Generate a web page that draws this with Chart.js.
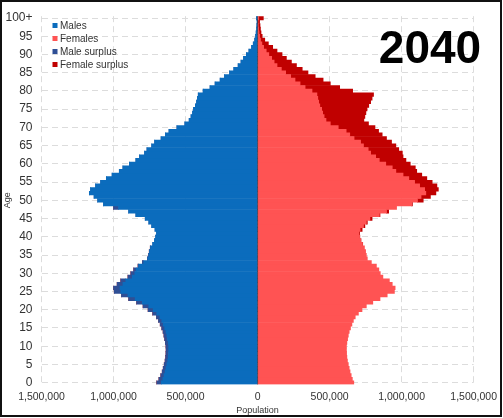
<!DOCTYPE html>
<html>
<head>
<meta charset="utf-8">
<script src="https://cdn.jsdelivr.net/npm/chart.js@4.4.1/dist/chart.umd.min.js"></script>
<style>
  html, body { margin: 0; padding: 0; background: #fff; }
  #frame { position: absolute; left: 0; top: 0; width: 502px; height: 417px; box-sizing: border-box; border: 2px solid #111; }
  #wrap { position: absolute; left: 0; top: 0; width: 503px; height: 418px; }
</style>
</head>
<body>
<div id="wrap"><canvas id="c" width="503" height="418"></canvas></div>
<div id="frame"></div>
<script>
const ages = [];
for (let a = 0; a < 100; a++) ages.push(String(a));
ages.push('100+');

const maleTotals = [
  700000, 685000, 672000, 662000, 655000, 648000, 642000, 638000, 636000, 635000,
  636000, 640000, 645000, 650000, 656000, 665000, 676000, 688000, 702000, 728000,
  760000, 795000, 840000, 895000, 945000, 995000, 1000000, 975000, 950000, 900000,
  880000, 860000, 830000, 800000, 765000, 757000, 752000, 745000, 728000, 716000,
  708000, 702000, 712000, 735000, 755000, 780000, 845000, 895000, 1000000, 1070000,
  1110000, 1135000, 1168000, 1160000, 1125000, 1090000, 1050000, 1010000, 960000, 935000,
  890000, 845000, 820000, 785000, 768000, 735000, 715000, 670000, 640000, 615000,
  560000, 505000, 475000, 462000, 452000, 445000, 432000, 424000, 418000, 412000,
  378000, 330000, 295000, 260000, 230000, 195000, 165000, 135000, 115000, 98000,
  78000, 60000, 42000, 30000, 20000, 14000, 10000, 7000, 5000, 3000,
  8000
];

const femaleTotals = [
  668000, 658000, 650000, 642000, 636000, 630000, 624000, 620000, 618000, 617000,
  617000, 620000, 625000, 630000, 636000, 645000, 655000, 665000, 678000, 700000,
  725000, 755000, 800000, 850000, 900000, 950000, 955000, 935000, 915000, 870000,
  852000, 842000, 825000, 790000, 762000, 755000, 750000, 742000, 730000, 718000,
  710000, 708000, 726000, 745000, 762000, 795000, 850000, 910000, 965000, 1075000,
  1150000, 1200000, 1238000, 1255000, 1245000, 1212000, 1175000, 1140000, 1105000, 1095000,
  1060000, 1030000, 1010000, 1005000, 980000, 960000, 930000, 895000, 865000, 840000,
  815000, 770000, 738000, 745000, 752000, 760000, 772000, 785000, 795000, 805000,
  660000, 570000, 505000, 455000, 400000, 350000, 310000, 270000, 235000, 200000,
  170000, 135000, 105000, 75000, 50000, 32000, 24000, 20000, 17000, 14000,
  40000
];

const xTicks = [-1500000, -1000000, -500000, 0, 500000, 1000000, 1500000];
const yearLabel = '2040';

const common = maleTotals.map((m, i) => Math.min(m, femaleTotals[i]));
const maleSurplus = maleTotals.map((m, i) => Math.max(m - femaleTotals[i], 0));
const femaleSurplus = femaleTotals.map((f, i) => Math.max(f - maleTotals[i], 0));

const COL_M = '#0b6cbd', COL_F = '#ff5353', COL_MS = '#2f4f95', COL_FS = '#c00000';
const FONT = "'Liberation Sans', Arial, sans-serif";

const legendPlugin = {
  id: 'insideLegend',
  afterDraw(chart) {
    const ctx = chart.ctx;
    ctx.save();
    ctx.font = '10px ' + FONT;
    ctx.textBaseline = 'middle';
    const ys = [25.5, 38.5, 51.5, 64.5];
    chart.data.datasets.forEach((ds, i) => {
      ctx.fillStyle = ds.backgroundColor;
      ctx.fillRect(52.5, ys[i] - 2.5, 5, 5);
      ctx.fillStyle = '#333';
      ctx.textAlign = 'left';
      ctx.fillText(ds.label, 60, ys[i] + 0.5);
    });
    ctx.font = 'bold 46px ' + FONT;
    ctx.fillStyle = '#000';
    ctx.textAlign = 'center';
    ctx.textBaseline = 'alphabetic';
    ctx.fillText(yearLabel, 430, 63);
    const x0 = chart.scales.x.getPixelForValue(0);
    ctx.strokeStyle = 'rgba(40,40,60,0.7)';
    ctx.lineWidth = 1;
    ctx.beginPath();
    ctx.moveTo(x0, chart.chartArea.top);
    ctx.lineTo(x0, chart.chartArea.bottom);
    ctx.stroke();
    ctx.restore();
  }
};

const barOpts = { barPercentage: 1, categoryPercentage: 1, borderWidth: 0 };

new Chart(document.getElementById('c'), {
  type: 'bar',
  data: {
    labels: ages,
    datasets: [
      Object.assign({ label: 'Males', data: common.map(v => -v), backgroundColor: COL_M }, barOpts),
      Object.assign({ label: 'Females', data: common, backgroundColor: COL_F }, barOpts),
      Object.assign({ label: 'Male surplus', data: maleSurplus.map(v => -v), backgroundColor: COL_MS }, barOpts),
      Object.assign({ label: 'Female surplus', data: femaleSurplus, backgroundColor: COL_FS }, barOpts)
    ]
  },
  options: {
    indexAxis: 'y',
    responsive: false,
    animation: false,
    layout: { padding: { top: 12.5, right: 29, bottom: 2, left: 0 } },
    plugins: { legend: { display: false }, tooltip: { enabled: false } },
    scales: {
      x: {
        stacked: true,
        min: -1500000,
        max: 1500000,
        afterBuildTicks(scale) { scale.ticks = xTicks.map(v => ({ value: v })); },
        afterFit(scale) { scale.height = 31.5; },
        ticks: {
          color: '#333',
          font: { family: FONT, size: 10.5 },
          padding: 6,
          maxRotation: 0,
          callback: v => Math.abs(v).toLocaleString('en-US')
        },
        grid: { color: '#dcdcdc', drawTicks: false, lineWidth: 1 },
        border: { display: false, dash: [6, 4] },
        title: { display: true, text: 'Population', color: '#333', font: { family: FONT, size: 9 }, padding: { top: 2, bottom: 0 } }
      },
      y: {
        stacked: true,
        reverse: true,
        afterFit(scale) { scale.width = 41.5; },
        ticks: {
          autoSkip: false,
          color: '#333',
          font: { family: FONT, size: 12 },
          padding: 9,
          callback(v) { return v % 5 === 0 ? ages[v] : null; }
        },
        grid: { color: '#dcdcdc', drawTicks: false, offset: false, lineWidth: 1 },
        border: { display: false, dash: [6, 4] },
        title: { display: true, text: 'Age', color: '#333', font: { family: FONT, size: 9 }, padding: { top: 2, bottom: 2 } }
      }
    }
  },
  plugins: [legendPlugin]
});
</script>
</body>
</html>
